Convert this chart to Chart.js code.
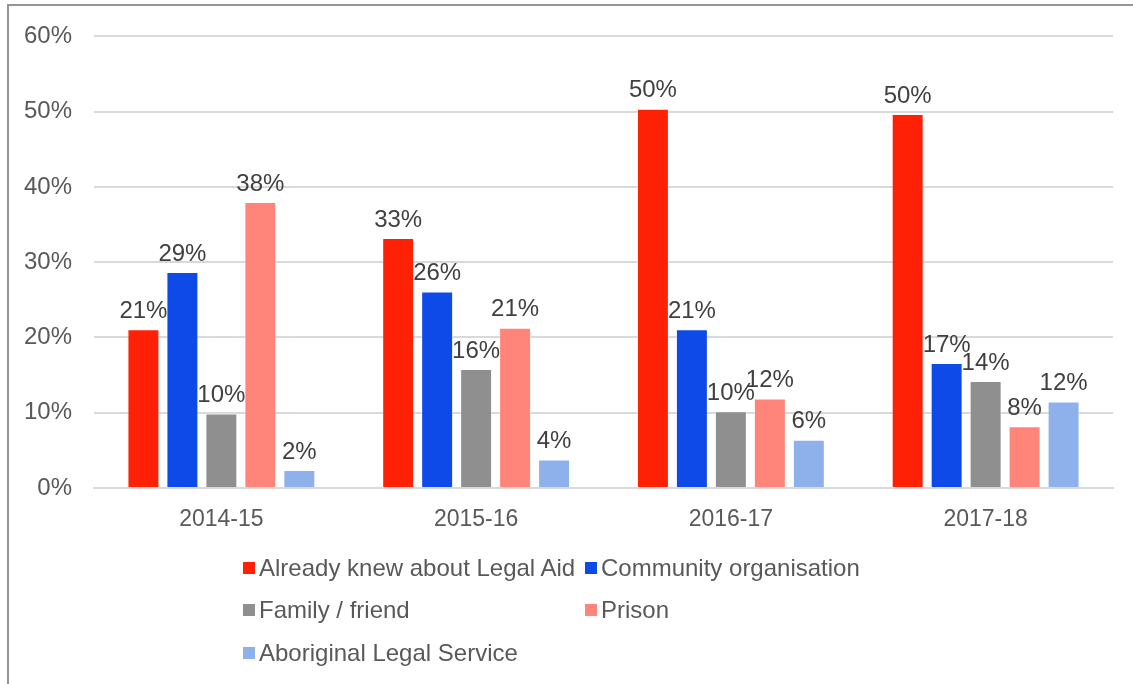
<!DOCTYPE html>
<html>
<head>
<meta charset="utf-8">
<script src="https://cdn.jsdelivr.net/npm/chart.js@4"></script>
<style>
  html, body { margin: 0; padding: 0; background: #fff; }
  body { width: 1133px; height: 684px; position: relative; overflow: hidden; font-family: "Liberation Sans", Arial, sans-serif; }
  #frame { position: absolute; left: 7px; top: 4px; width: 2000px; height: 2000px; border-left: 2px solid #949494; border-top: 2px solid #949494; }
  #wrap { position: absolute; left: 0; top: 0; width: 1133px; height: 684px; }
  #legend { position: absolute; left: 243px; top: 554px; width: 700px; }
  .item { position: absolute; display: flex; align-items: center; font-size: 24px; line-height: 28px; color: #595959; white-space: nowrap; }
  .box { width: 12px; height: 12px; margin-right: 4px; }
</style>
</head>
<body>
<div id="frame"></div>
<div id="wrap"><canvas id="chart" width="1133" height="684"></canvas></div>
<div id="legend"></div>
<script>
  // Source of referral, share of clients by year
  const years = ['2014-15', '2015-16', '2016-17', '2017-18'];
  const seriesNames = ['Already knew about Legal Aid', 'Community organisation', 'Family / friend', 'Prison', 'Aboriginal Legal Service'];
  const alreadyKnew = [21.1, 33.2, 50.4, 49.7];
  const community = [28.7, 26.1, 21.1, 16.6];
  const familyFriend = [9.9, 15.8, 10.2, 14.2];
  const prison = [38.0, 21.3, 11.9, 8.2];
  const aboriginalLegal = [2.4, 3.8, 6.4, 11.5];
  const yTicks = [0, 10, 20, 30, 40, 50, 60];
  const colors = ['#ff2106', '#0e4ae8', '#8f8f8f', '#ff857a', '#8eb1eb'];

  const values = [alreadyKnew, community, familyFriend, prison, aboriginalLegal];
  const font = '"Liberation Sans", Arial, sans-serif';

  // value labels above each bar
  const barLabels = {
    id: 'barLabels',
    afterDatasetsDraw(chart) {
      const ctx = chart.ctx;
      ctx.save();
      ctx.font = '24px ' + font;
      ctx.fillStyle = '#404040';
      ctx.textAlign = 'center';
      ctx.textBaseline = 'bottom';
      chart.data.datasets.forEach((ds, i) => {
        chart.getDatasetMeta(i).data.forEach((bar, j) => {
          ctx.fillText(Math.round(ds.data[j]) + '%', bar.x, bar.y - 6);
        });
      });
      ctx.restore();
    }
  };

  new Chart(document.getElementById('chart'), {
    type: 'bar',
    data: {
      labels: years,
      datasets: seriesNames.map((name, i) => ({
        label: name,
        data: values[i],
        backgroundColor: colors[i],
        borderColor: 'rgba(255,255,255,0.5)',
        borderWidth: 1,
        categoryPercentage: 0.765,
        barPercentage: 0.82
      }))
    },
    options: {
      responsive: false,
      animation: false,
      layout: { padding: { top: 35, right: 20, bottom: 136, left: 0 } },
      plugins: { legend: { display: false }, tooltip: { enabled: false } },
      scales: {
        x: {
          grid: { display: false },
          border: { color: '#d9d9d9', width: 2 },
          ticks: { color: '#595959', font: { size: 23, family: font }, padding: 10 },
          afterFit(scale) { scale.height = 60; }
        },
        y: {
          min: 0,
          max: 60,
          afterBuildTicks(scale) { scale.ticks = yTicks.map(v => ({ value: v })); },
          grid: { color: '#d9d9d9', lineWidth: 2, drawTicks: false },
          border: { display: false },
          ticks: {
            color: '#595959',
            font: { size: 24, family: font },
            padding: 22,
            callback: v => v + '%'
          },
          afterFit(scale) { scale.width = 94; }
        }
      }
    },
    plugins: [barLabels]
  });

  // legend laid out in two columns
  const legend = document.getElementById('legend');
  const slots = [[0, 0], [342, 0], [0, 42], [342, 42], [0, 85]];
  seriesNames.forEach((name, i) => {
    const el = document.createElement('div');
    el.className = 'item';
    el.style.left = slots[i][0] + 'px';
    el.style.top = slots[i][1] + 'px';
    el.innerHTML = '<span class="box" style="background:' + colors[i] + '"></span>' + name;
    legend.appendChild(el);
  });
</script>
</body>
</html>
